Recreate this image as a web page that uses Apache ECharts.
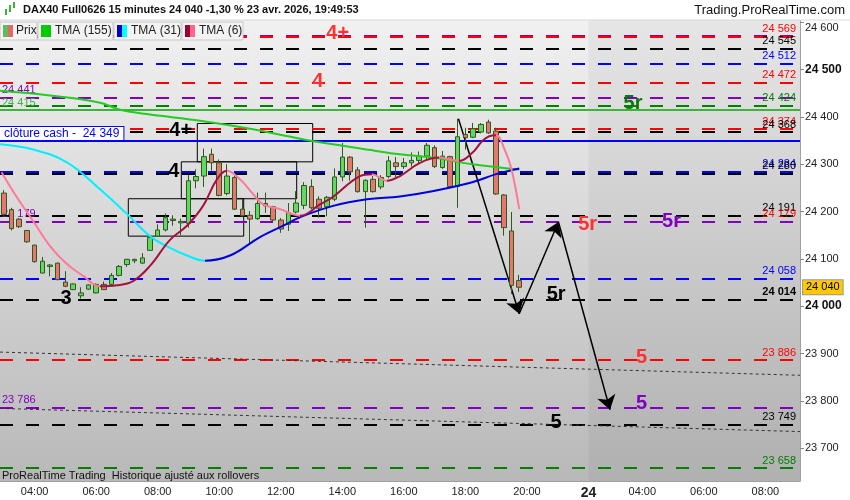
<!DOCTYPE html>
<html><head><meta charset="utf-8">
<script src="https://cdn.jsdelivr.net/npm/echarts@6/dist/echarts.min.js"></script>
<style>html,body{margin:0;padding:0;background:#fff}#c{width:850px;height:500px}</style>
</head><body><div id="c"></div>
<script>
// ---------- DATA ----------
const sessions = [['23', '03:00', '21:45'], ['24', '02:15', '09:00']];
const xTickKeys = ['23 04:00','23 06:00','23 08:00','23 10:00','23 12:00','23 14:00','23 16:00','23 18:00','23 20:00','24 02:15','24 04:00','24 06:00','24 08:00'];
const xTickLabels = ['04:00','06:00','08:00','10:00','12:00','14:00','16:00','18:00','20:00','24','04:00','06:00','08:00'];
const yTicks = [23700, 23800, 23900, 24000, 24100, 24200, 24300, 24400, 24500, 24600];
const yBoldTicks = [24000, 24500];

const candleOpen  = [24239,24204,24184,24160,24129,24070,24084,24091,24051,24035,24022,24036,24028,24046,24046,24065,24088,24096,24091,24118,24148,24161,24184,24176,24175,24265,24275,24321,24303,24238,24272,24205,24192,24185,24217,24210,24182,24173,24199,24213,24253,24226,24210,24226,24273,24315,24288,24242,24268,24252,24274,24303,24295,24303,24308,24317,24335,24293,24316,24253,24363,24357,24368,24389,24370,24235,24159,24054];
const candleClose = [24194,24164,24168,24136,24094,24095,24087,24056,24042,24047,24028,24045,24046,24035,24065,24084,24099,24099,24102,24145,24161,24187,24181,24179,24265,24274,24316,24303,24234,24275,24205,24191,24184,24217,24212,24182,24163,24198,24218,24255,24208,24207,24230,24273,24315,24284,24242,24266,24242,24272,24307,24295,24303,24308,24317,24340,24295,24317,24253,24358,24356,24375,24384,24366,24237,24166,24044,24040];
const candleLow   = [24192,24160,24165,24134,24092,24069,24063,24055,24040,24034,24016,24035,24027,24034,24045,24063,24083,24091,24089,24117,24147,24158,24170,24150,24166,24249,24252,24286,24232,24234,24203,24189,24131,24182,24197,24178,24155,24159,24196,24205,24205,24187,24190,24222,24264,24265,24240,24166,24240,24247,24270,24272,24290,24295,24300,24310,24292,24290,24250,24208,24331,24355,24365,24364,24235,24149,24026,24030];
const candleHigh  = [24245,24208,24186,24161,24130,24104,24089,24092,24074,24048,24040,24046,24048,24052,24070,24087,24100,24100,24112,24147,24173,24196,24192,24185,24277,24289,24333,24333,24310,24300,24276,24226,24201,24240,24240,24212,24186,24218,24243,24262,24268,24232,24233,24291,24345,24317,24294,24268,24275,24277,24317,24315,24313,24325,24327,24345,24340,24328,24318,24396,24377,24387,24387,24394,24377,24237,24199,24066];

// moving averages: [bar index, value]
const tma155 = [[-0.5,24455],[6,24445],[12.5,24430],[15.1,24415],[19,24405],[25.5,24392],[32,24375],[38.5,24354],[42.8,24342],[47.2,24331],[51.5,24321],[55.7,24314],[60.9,24300],[67,24289]];
const tma31 = [[-0.5,24342],[3.8,24331],[8.2,24304],[12.5,24247],[16,24195],[19,24148],[21.6,24123],[23.8,24107],[26.1,24096],[29.4,24107],[33.3,24146],[36.8,24174],[38.5,24188],[42.8,24212],[47.2,24226],[51.5,24232],[55.7,24243],[60.9,24262],[64,24279],[67,24291]];
const tma6 = [[-0.3,24283],[1.7,24230],[3.8,24180],[6,24127],[8.2,24089],[10.3,24064],[12.5,24042],[14.7,24044],[16.8,24053],[19,24085],[21.6,24140],[23.8,24170],[25.9,24212],[27.7,24268],[29,24286],[30.7,24268],[32.4,24237],[33.7,24215],[35.9,24205],[37.6,24194],[38.5,24191],[41.1,24215],[42.8,24231],[46.3,24275],[47.8,24279],[49.8,24265],[51.5,24275],[54.1,24303],[56.6,24314],[57.9,24310],[59.2,24307],[60.9,24324],[62.2,24349],[63.1,24359],[64,24361],[65.1,24331],[66,24289],[67,24205]];

// horizontal levels
const levelValues      = [24572, 24569, 24545, 24512, 24472, 24441, 24424, 24374, 24368, 24284, 24280, 24191, 24179, 24058, 24014, 23886, 23786, 23749, 23658];
const levelColors      = ['#8000c0','#ff0000','#000000','#0000ff','#ff0000','#8000c0','#008000','#ff0000','#000000','#0000ff','#000000','#000000','#8000c0','#0000ff','#000000','#ff0000','#8000c0','#000000','#008000'];
const levelRightLabels = ['', '24 569', '24 545', '24 512', '24 472', '', '24 424', '24 374', '24 368', '24 284', '24 280', '24 191', '24 179', '24 058', '24 014', '23 886', '', '23 749', '23 658'];
const levelRightLabelColors = ['', '#ff0000','#000000','#0000ff','#ff0000','', '#008000','#ff0000','#000000','#0000ff','#000000','#000000','#ff0000','#0000ff','#000000','#ff0000','', '#000000','#008000'];
const levelLeftLabels  = [['24 441', 24441, '#8000c0'], ['24 179', 24179, '#8000c0'], ['23 786', 23786, '#8000c0']];
const solidLevels      = [[24415, '#3cb43c', '24 415'], [24349, '#0000ff', 'clôture cash -  24 349']];
const lastPrice = 24040;

// trend lines and arrows: [bar index, value]
const trendLines = [[[-0.5, 23903], [103.5, 23854]], [[-0.5, 23784], [103.5, 23735]]];
const arrowPath = [[59.1, 24396], [67.0, 23984], [72.1, 24178], [78.8, 23781]];
// boxes: [x0, x1, yTop, yBottom]
const boxes = [[25.15, 40.15, 24386, 24305], [23.07, 38.07, 24305, 24227], [16.18, 31.18, 24227, 24148]];
// annotations: [text, bar index, value, color]
const notes = [
  ['4+', 43.4, 24576, '#ff3030'], ['4', 40.8, 24474, '#ff3030'],
  ['4+', 23.0, 24371, '#000000'], ['4', 22.1, 24285, '#000000'],
  ['3', 8.1, 24016, '#000000'],
  ['5r', 81.8, 24428, '#0a7a0a'], ['5r', 75.9, 24173, '#ff3030'], ['5r', 86.8, 24180, '#8000c0'],
  ['5r', 71.8, 24024, '#000000'],
  ['5', 82.9, 23892, '#ff3030'], ['5', 82.9, 23795, '#8000c0'], ['5', 71.8, 23755, '#000000']
];
const futureStart = 76;

// ---------- BUILD ----------
function fmt(v){ return String(v).replace(/\B(?=(\d{3})+(?!\d))/g, ' '); }
function makeTimes(day, start, end){
  const out = []; let [h, m] = start.split(':').map(Number); const [eh, em] = end.split(':').map(Number);
  while (h * 60 + m <= eh * 60 + em) { out.push(day + ' ' + String(h).padStart(2,'0') + ':' + String(m).padStart(2,'0')); m += 15; if (m >= 60) { m -= 60; h++; } }
  return out;
}
const categories = [].concat(...sessions.map(s => makeTimes(s[0], s[1], s[2])));
const nBars = categories.length;
const tickIdx = xTickKeys.map(k => categories.indexOf(k));
const candles = candleOpen.map((o, i) => [o, candleClose[i], candleLow[i], candleHigh[i]]);

function slopePieces(data, upColor, downColor){
  const pieces = []; let start = -1000; let up = data[1][1] >= data[0][1];
  for (let i = 1; i < data.length - 1; i++) {
    const u = data[i + 1][1] >= data[i][1];
    if (u !== up) { pieces.push({gte: start, lt: data[i][0], color: up ? upColor : downColor}); start = data[i][0]; up = u; }
  }
  pieces.push({gte: start, lt: 1000, color: up ? upColor : downColor});
  return pieces;
}

const Y_MIN = 23630.6, Y_MAX = 24604.7;
const font = 'Liberation Sans, Arial, sans-serif';
const clear = 'rgba(0,0,0,0)';

const levelLines = levelValues.map((v, i) => ({
  yAxis: v,
  lineStyle: {color: levelColors[i], width: 2, type: [13, 13]},
  label: {show: !!levelRightLabels[i], position: 'insideEndTop', formatter: levelRightLabels[i], color: levelRightLabelColors[i] || '#000', fontSize: 11, fontFamily: font, fontWeight: levelValues[i] === 24014 ? 'bold' : 'normal', distance: [4, 2]}
}));
const leftLabelLines = levelLeftLabels.map(l => ({
  yAxis: l[1], lineStyle: {color: clear, width: 1, type: 'solid'},
  label: {show: true, position: 'insideStartTop', formatter: l[0], color: l[2], fontSize: 11, fontFamily: font, distance: [2, 2]}
}));
solidLevels.forEach((l, i) => levelLines.push({
  yAxis: l[0], lineStyle: {color: l[1], width: 2, type: 'solid'},
  label: i === 1 ? {show: true, position: 'insideStartTop', formatter: l[2], color: l[1], fontSize: 12, fontFamily: font, backgroundColor: '#fff', borderColor: l[1], borderWidth: 1, padding: [1, 4, 0, 4], distance: [0, 1]}
                 : {show: true, position: 'insideStartTop', formatter: l[2], color: l[1], fontSize: 11, fontFamily: font, distance: [2, 1]}
}));

const arrowLines = [];
for (let i = 0; i < arrowPath.length - 1; i++) arrowLines.push([{coord: arrowPath[i]}, {coord: arrowPath[i + 1]}]);

const option = {
  animation: false,
  backgroundColor: '#ffffff',
  grid: {left: 0, right: 50, top: 20, bottom: 17, show: true, borderWidth: 0,
    backgroundColor: {type: 'linear', x: 0, y: 0, x2: 0, y2: 1, colorStops: [{offset: 0, color: '#f1f1f1'}, {offset: 1, color: '#b8b8b8'}]}},
  xAxis: [
    {type: 'category', data: categories, boundaryGap: true,
      axisLine: {lineStyle: {color: '#a0a0a0'}},
      axisTick: {interval: (i) => tickIdx.includes(i), alignWithLabel: true, length: 3, lineStyle: {color: '#999'}},
      axisLabel: {interval: (i) => tickIdx.includes(i), margin: 5, color: '#222', fontSize: 11, fontFamily: font,
        formatter: (v, i) => { const k = tickIdx.indexOf(i); const t = xTickLabels[k]; return t && t.indexOf(':') < 0 ? '{b|' + t + '}' : t; },
        rich: {b: {fontSize: 14, fontWeight: 'bold', color: '#222', fontFamily: font}}},
      splitLine: {show: false}},
    {type: 'value', min: -0.5, max: nBars - 0.5, show: false, axisLine: {show: false, onZero: false}}
  ],
  yAxis: {type: 'value', position: 'right', min: Y_MIN, max: Y_MAX, scale: true,
    axisLine: {show: true, onZero: false, lineStyle: {color: '#a0a0a0'}},
    axisTick: {show: true, customValues: yTicks, length: 4, lineStyle: {color: '#888'}},
    axisLabel: {customValues: yTicks, margin: 5, color: '#222', fontSize: 11, fontFamily: font,
      formatter: (v) => v === yTicks[yTicks.length - 1] ? '{t|' + fmt(v) + '}' : (yBoldTicks.includes(v) ? '{b|' + fmt(v) + '}' : fmt(v)),
      rich: {b: {fontSize: 12, fontWeight: 'bold', color: '#111', fontFamily: font}, t: {fontSize: 11, color: '#222', fontFamily: font, padding: [11, 0, 0, 0]}}},
    splitLine: {show: false}},
  series: [
    {type: 'line', xAxisIndex: 1, data: [], z: 1, silent: true,
      markArea: {silent: true, itemStyle: {color: 'rgba(0,0,0,0.045)'}, data: [[{xAxis: futureStart}, {xAxis: nBars - 0.5}]]}},
    {type: 'line', xAxisIndex: 1, data: [], z: 2, silent: true,
      markLine: {silent: true, symbol: ['none', 'none'], data: levelLines}},
    {type: 'line', xAxisIndex: 1, data: [], z: 3, silent: true,
      markLine: {silent: true, symbol: ['none', 'none'], label: {show: false}, lineStyle: {color: '#333', width: 1, type: [3, 3]},
        data: trendLines.map(t => [{coord: t[0]}, {coord: t[1]}])},
      markArea: {silent: true, itemStyle: {color: clear, borderColor: '#000', borderWidth: 1},
        data: boxes.map(b => [{coord: [b[0], b[2]]}, {coord: [b[1], b[3]]}])}},
    {name: 'Prix', type: 'candlestick', xAxisIndex: 0, data: candles, barWidth: 5, z: 5,
      itemStyle: {color: '#62d862', color0: '#e8766e', borderColor: '#2e5a1c', borderColor0: '#2e5a1c', borderWidth: 1},
      markLine: {silent: true, symbol: ['none', 'none'], data: [{yAxis: lastPrice, lineStyle: {color: clear, width: 1, type: 'solid'},
        label: {show: true, position: 'end', formatter: fmt(lastPrice), color: '#000', fontSize: 11, fontFamily: font, backgroundColor: '#ffc800', borderColor: '#999', borderWidth: 1, padding: [2, 3, 1, 3], distance: 3}}]}},
    {name: 'TMA (155)', type: 'line', xAxisIndex: 1, data: tma155, smooth: 0.4, showSymbol: false, z: 6, lineStyle: {color: '#22cc22', width: 2}},
    {name: 'TMA (31)', type: 'line', xAxisIndex: 1, data: tma31, smooth: 0.4, showSymbol: false, z: 6, lineStyle: {width: 2}},
    {name: 'TMA (6)', type: 'line', xAxisIndex: 1, data: tma6, smooth: 0.4, showSymbol: false, z: 6, lineStyle: {width: 2}},
    {type: 'line', xAxisIndex: 1, data: [], z: 7, silent: true,
      markLine: {silent: true, symbol: ['none', 'arrow'], symbolSize: 14, label: {show: false}, lineStyle: {color: '#000', width: 1.5, type: 'solid'}, data: arrowLines}},
    {type: 'scatter', xAxisIndex: 1, z: 8, silent: true, symbolSize: 1, itemStyle: {color: clear},
      data: notes.map(n => ({value: [n[1], n[2]], name: n[0], label: {color: n[3]}})),
      label: {show: true, position: 'inside', formatter: (p) => p.name, fontSize: 20, fontWeight: 'bold', fontFamily: font, textBorderWidth: 0, textBorderColor: clear, opacity: 1}},
    {type: 'line', xAxisIndex: 1, data: [], z: 9, silent: true,
      markLine: {silent: true, symbol: ['none', 'none'], data: leftLabelLines}}
  ],
  visualMap: [
    {type: 'piecewise', show: false, seriesIndex: 5, dimension: 0, pieces: slopePieces(tma31, '#0000dd', '#00f0ff')},
    {type: 'piecewise', show: false, seriesIndex: 6, dimension: 0, pieces: slopePieces(tma6, '#a3123f', '#ff7898')}
  ],
  graphic: [
    {type: 'rect', z: 100, shape: {x: 0, y: 0, width: 850, height: 20}, style: {fill: '#ffffff'}},
    {type: 'line', z: 100, shape: {x1: 0, y1: 20, x2: 850, y2: 20}, style: {stroke: '#d8d8d8', lineWidth: 1}},
    {type: 'rect', z: 101, shape: {x: 5, y: 9, width: 2, height: 6}, style: {fill: '#3cb43c'}},
    {type: 'rect', z: 101, shape: {x: 9, y: 5, width: 2, height: 7}, style: {fill: '#3cb43c'}},
    {type: 'rect', z: 101, shape: {x: 13, y: 2, width: 2, height: 6}, style: {fill: '#3cb43c'}},
    {type: 'text', z: 101, left: 23, top: 4, style: {text: 'DAX40 Full0626 15 minutes 24 040 -1,30 % 23 avr. 2026, 19:49:53', font: 'bold 11px ' + font, fill: '#111'}},
    {type: 'text', z: 101, right: 5, top: 4, style: {text: 'Trading.ProRealTime.com', font: '13px ' + font, fill: '#111'}},
    // legend row
    {type: 'rect', z: 100, shape: {x: 0, y: 22, width: 37, height: 18}, style: {fill: '#f3f3f3', stroke: '#c8c8c8', lineWidth: 1}},
    {type: 'rect', z: 100, shape: {x: 38, y: 22, width: 75, height: 18}, style: {fill: '#f3f3f3', stroke: '#c8c8c8', lineWidth: 1}},
    {type: 'rect', z: 100, shape: {x: 114, y: 22, width: 67, height: 18}, style: {fill: '#f3f3f3', stroke: '#c8c8c8', lineWidth: 1}},
    {type: 'rect', z: 100, shape: {x: 182, y: 22, width: 61, height: 18}, style: {fill: '#f3f3f3', stroke: '#c8c8c8', lineWidth: 1}},
    {type: 'rect', z: 101, shape: {x: 3, y: 25, width: 5, height: 12}, style: {fill: '#5cbf5c'}},
    {type: 'rect', z: 101, shape: {x: 8, y: 25, width: 5, height: 12}, style: {fill: '#e06a6a'}},
    {type: 'rect', z: 101, shape: {x: 41, y: 25, width: 10, height: 12}, style: {fill: '#00cc00'}},
    {type: 'rect', z: 101, shape: {x: 117, y: 25, width: 5, height: 12}, style: {fill: '#0000cc'}},
    {type: 'rect', z: 101, shape: {x: 122, y: 25, width: 5, height: 12}, style: {fill: '#00ffff'}},
    {type: 'rect', z: 101, shape: {x: 185, y: 25, width: 5, height: 12}, style: {fill: '#990033'}},
    {type: 'rect', z: 101, shape: {x: 190, y: 25, width: 5, height: 12}, style: {fill: '#ff6688'}},
    {type: 'text', z: 101, left: 16, top: 25, style: {text: 'Prix', font: '12px ' + font, fill: '#222'}},
    {type: 'text', z: 101, left: 55, top: 25, style: {text: 'TMA (155)', font: '12px ' + font, fill: '#222'}},
    {type: 'text', z: 101, left: 131, top: 25, style: {text: 'TMA (31)', font: '12px ' + font, fill: '#222'}},
    {type: 'text', z: 101, left: 199, top: 25, style: {text: 'TMA (6)', font: '12px ' + font, fill: '#222'}},
    {type: 'text', z: 101, left: 2, top: 470, style: {text: 'ProRealTime Trading  Historique ajusté aux rollovers', font: '11px Liberation Sans Narrow, ' + font, fill: '#111'}}
  ]
};
const chart = echarts.init(document.getElementById('c'), null, {renderer: 'canvas'});
chart.setOption(option);
</script></body></html>
